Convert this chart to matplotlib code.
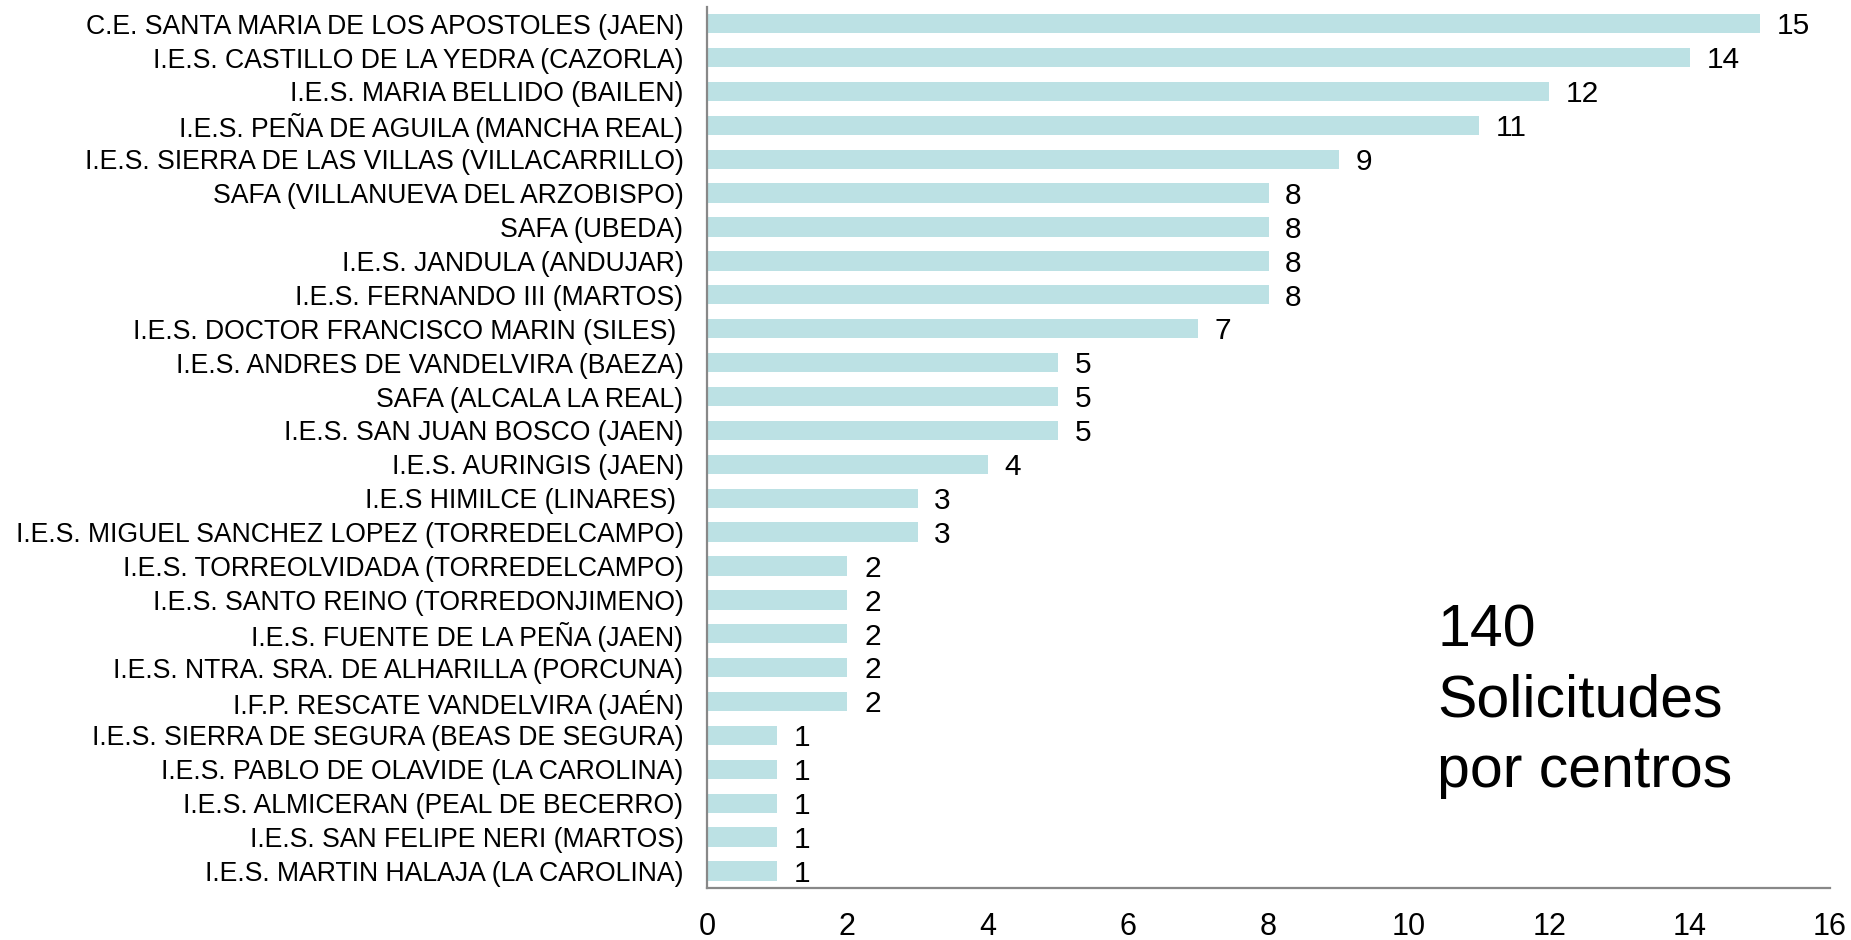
import matplotlib
matplotlib.use("Agg")
import matplotlib.pyplot as plt

plt.rcParams['font.family'] = ['Liberation Sans', 'DejaVu Sans']

centros = [
    "C.E. SANTA MARIA DE LOS APOSTOLES (JAEN)",
    "I.E.S. CASTILLO DE LA YEDRA (CAZORLA)",
    "I.E.S. MARIA BELLIDO (BAILEN)",
    "I.E.S. PEÑA DE AGUILA (MANCHA REAL)",
    "I.E.S. SIERRA DE LAS VILLAS (VILLACARRILLO)",
    "SAFA (VILLANUEVA DEL ARZOBISPO)",
    "SAFA (UBEDA)",
    "I.E.S. JANDULA (ANDUJAR)",
    "I.E.S. FERNANDO III (MARTOS)",
    "I.E.S. DOCTOR FRANCISCO MARIN (SILES) ",
    "I.E.S. ANDRES DE VANDELVIRA (BAEZA)",
    "SAFA (ALCALA LA REAL)",
    "I.E.S. SAN JUAN BOSCO (JAEN)",
    "I.E.S. AURINGIS (JAEN)",
    "I.E.S HIMILCE (LINARES) ",
    "I.E.S. MIGUEL SANCHEZ LOPEZ (TORREDELCAMPO)",
    "I.E.S. TORREOLVIDADA (TORREDELCAMPO)",
    "I.E.S. SANTO REINO (TORREDONJIMENO)",
    "I.E.S. FUENTE DE LA PEÑA (JAEN)",
    "I.E.S. NTRA. SRA. DE ALHARILLA (PORCUNA)",
    "I.F.P. RESCATE VANDELVIRA (JAÉN)",
    "I.E.S. SIERRA DE SEGURA (BEAS DE SEGURA)",
    "I.E.S. PABLO DE OLAVIDE (LA CAROLINA)",
    "I.E.S. ALMICERAN (PEAL DE BECERRO)",
    "I.E.S. SAN FELIPE NERI (MARTOS)",
    "I.E.S. MARTIN HALAJA (LA CAROLINA)",
]
solicitudes = [15, 14, 12, 11, 9, 8, 8, 8, 8, 7, 5, 5, 5, 4, 3, 3, 2, 2, 2, 2, 2, 1, 1, 1, 1, 1]
xticks = [0, 2, 4, 6, 8, 10, 12, 14, 16]
total_text = "140\nSolicitudes\npor centros"

fig = plt.figure(figsize=(18.51, 9.40), dpi=100)
ax = fig.add_axes([707/1851, 1-888/940, (1830-707)/1851, (888-6.7)/940])

y = list(range(len(centros)))
ax.barh(y, solicitudes, height=0.57, color="#BCE1E4")
ax.set_ylim(len(centros)-0.5, -0.5)
ax.set_xlim(0, 16)
ax.set_yticks(y)
ax.set_yticklabels(centros, fontsize=19.2)
ax.set_xticks(xticks)
ax.set_xticklabels([str(t) for t in xticks], fontsize=22)
ax.tick_params(axis='y', length=0, pad=17)
ax.tick_params(axis='x', length=0, pad=17)

for s in ['top', 'right']:
    ax.spines[s].set_visible(False)
for s in ['left', 'bottom']:
    ax.spines[s].set_color('#888888')
    ax.spines[s].set_linewidth(1.6)

for yi, v in zip(y, solicitudes):
    ax.annotate(str(v), xy=(v, yi), xytext=(12, -2), textcoords='offset points',
                va='center', ha='left', fontsize=21.5)

fig.text(1437/1851, 1-701/940, total_text, fontsize=42.5, ha='left', va='center',
         linespacing=1.36)

fig.savefig("out.png", dpi=100)
